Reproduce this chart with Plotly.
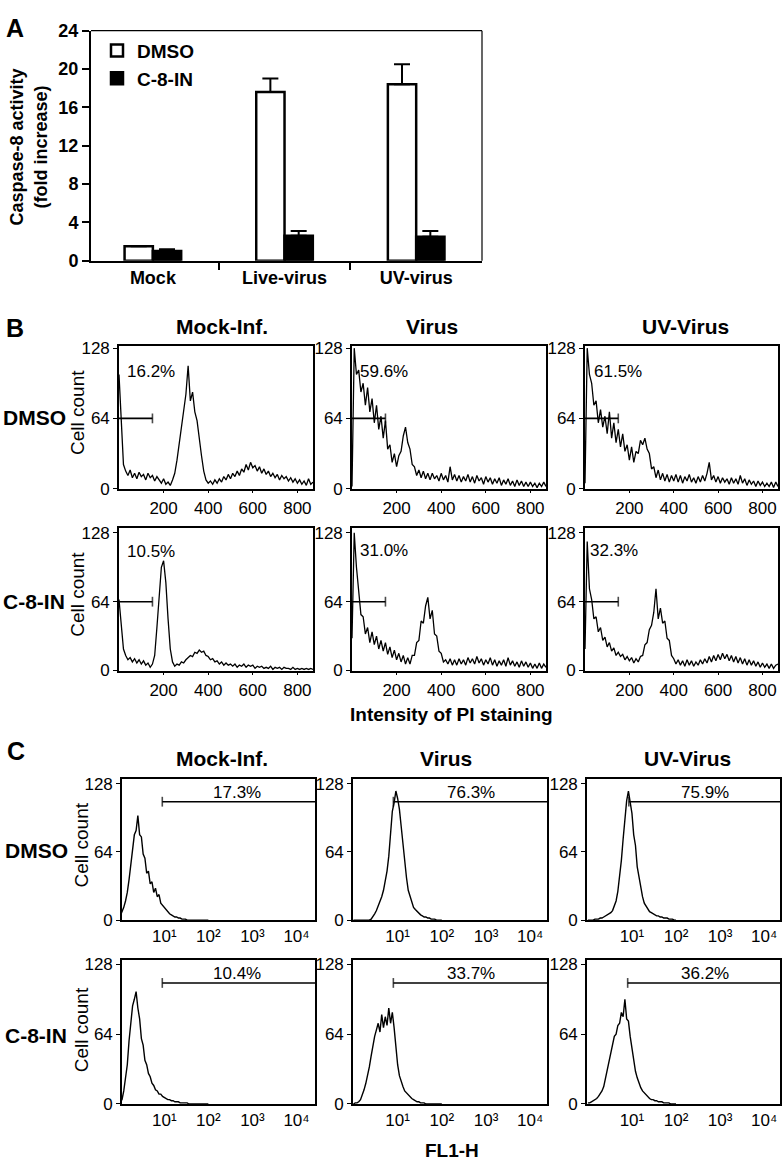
import plotly.graph_objects as go

W, H = 782, 1171
FONT = "Liberation Sans, Arial, Helvetica, sans-serif"

# ---------------- Panel A data ----------------
categories = ["Mock", "Live-virus", "UV-virus"]
dmso_mean = [1.5, 17.6, 18.4]
dmso_err = [0.0, 1.4, 2.1]
c8_mean = [1.0, 2.6, 2.5]
c8_err = [0.2, 0.5, 0.6]
a_yticks = [0, 4, 8, 12, 16, 20, 24]

# ---------------- Panel B data (PI staining histograms) ----------------
pi_channels = list(range(0, 880, 10))
pi_ticks = [200, 400, 600, 800]
B_mock_dmso = [104, 60, 22, 16, 12, 17, 10, 14, 9, 15, 11, 13, 8, 14, 10, 12, 7, 11, 8, 5,
               9, 4, 6, 3, 8, 14, 26, 42, 58, 74, 86, 112, 80, 88, 70, 62, 44, 30, 16, 8,
               5, 7, 4, 8, 5, 9, 6, 11, 8, 13, 9, 14, 11, 16, 12, 18, 15, 22, 17, 24,
               19, 21, 16, 20, 14, 18, 13, 16, 11, 14, 10, 13, 8, 12, 9, 11, 7, 10, 6, 9,
               5, 8, 4, 7, 3, 9, 4, 6]
B_virus_dmso = [2, 128, 104, 108, 88, 96, 76, 92, 70, 82, 60, 76, 54, 66, 46, 62, 36, 40, 24, 32,
                20, 30, 34, 48, 56, 42, 36, 22, 20, 12, 17, 10, 16, 9, 14, 8, 14, 9, 12, 7,
                14, 8, 12, 6, 20, 8, 13, 7, 12, 6, 11, 7, 13, 6, 11, 5, 12, 7, 10, 4,
                11, 6, 10, 4, 9, 5, 10, 3, 8, 4, 9, 3, 7, 2, 8, 3, 7, 2, 6, 2,
                6, 2, 5, 1, 5, 2, 6, 2]
B_uv_dmso = [5, 128, 104, 96, 76, 80, 60, 72, 56, 66, 50, 70, 46, 60, 42, 54, 38, 50, 34, 40,
             26, 38, 24, 34, 32, 44, 40, 46, 36, 32, 18, 20, 10, 17, 8, 14, 7, 13, 6, 12,
             7, 13, 6, 12, 5, 11, 7, 13, 6, 10, 5, 11, 6, 12, 7, 14, 24, 8, 12, 6,
             11, 5, 10, 6, 9, 4, 10, 5, 9, 4, 12, 5, 9, 3, 8, 4, 7, 2, 7, 3,
             6, 2, 5, 2, 6, 1, 6, 2]
B_mock_c8 = [66, 40, 20, 14, 10, 12, 8, 11, 7, 10, 6, 9, 5, 7, 3, 6, 14, 40, 72, 96,
             102, 82, 48, 20, 8, 4, 6, 5, 8, 7, 10, 12, 14, 13, 17, 16, 19, 17, 18, 14,
             13, 10, 11, 8, 9, 6, 8, 5, 7, 5, 6, 4, 6, 3, 5, 4, 6, 3, 5, 4,
             5, 2, 4, 3, 4, 2, 3, 2, 4, 1, 3, 2, 3, 1, 3, 2, 2, 1, 3, 1,
             2, 1, 2, 1, 2, 1, 2, 1]
B_virus_c8 = [30, 128, 96, 74, 52, 50, 34, 40, 26, 36, 24, 32, 20, 28, 18, 26, 15, 22, 12, 19,
              10, 16, 8, 14, 6, 12, 6, 14, 14, 26, 28, 46, 44, 60, 68, 48, 56, 34, 32, 18,
              16, 8, 10, 6, 11, 5, 10, 5, 11, 6, 10, 5, 12, 7, 11, 6, 13, 7, 11, 5,
              10, 6, 12, 5, 10, 4, 9, 5, 10, 4, 12, 5, 9, 4, 8, 3, 9, 4, 8, 3,
              7, 2, 6, 2, 7, 2, 6, 3]
B_uv_c8 = [20, 120, 76, 66, 48, 50, 36, 40, 28, 31, 22, 26, 18, 21, 14, 17, 13, 15, 10, 13,
           9, 12, 7, 11, 8, 13, 14, 24, 26, 38, 42, 54, 76, 48, 58, 44, 46, 30, 28, 14,
           11, 6, 10, 5, 9, 4, 10, 5, 9, 4, 8, 5, 10, 6, 11, 7, 13, 8, 14, 9,
           15, 10, 16, 11, 15, 9, 14, 8, 13, 7, 12, 6, 11, 5, 10, 5, 9, 4, 8, 3,
           7, 3, 6, 2, 6, 2, 5, 6]
B_pct = ["16.2%", "59.6%", "61.5%", "10.5%", "31.0%", "32.3%"]
B_gate = [0, 150]
B_gate_level = 64

# ---------------- Panel C data (FL1-H histograms, log10 channels) ----------------
fl1_log_channels = [0.00, 0.04, 0.08, 0.12, 0.16, 0.20, 0.24, 0.28, 0.32, 0.36, 0.40, 0.44, 0.48,
                    0.52, 0.56, 0.60, 0.64, 0.68, 0.72, 0.76, 0.80, 0.84, 0.88, 0.92, 0.96, 1.00,
                    1.04, 1.08, 1.12, 1.16, 1.20, 1.24, 1.28, 1.32, 1.36, 1.40, 1.44, 1.48, 1.52,
                    1.56, 1.60, 1.64, 1.68, 1.72, 1.76, 1.80, 1.84, 1.88, 1.92, 1.96, 2.00]
C_mock_dmso = [4, 8, 12, 18, 26, 38, 52, 66, 80, 84, 98, 80, 78, 62, 58, 44, 46, 34, 36, 26,
               30, 22, 24, 16, 14, 11, 9, 7, 6, 5, 4, 3, 3, 2, 2, 1, 1, 1, 0, 0,
               0, 0, 0, 0, 0, 0, 0, 0, 0, 0, 0]
C_virus_dmso = [0, 0, 0, 0, 0, 0, 0, 0, 0, 0, 1, 3, 6, 9, 13, 17, 22, 28, 36, 46,
                60, 80, 102, 110, 121, 114, 104, 88, 72, 52, 40, 28, 22, 16, 12, 10, 8, 6, 5, 4,
                3, 3, 2, 2, 1, 1, 1, 0, 0, 0, 0]
C_uv_dmso = [0, 0, 0, 0, 1, 1, 1, 2, 2, 3, 4, 5, 6, 7, 9, 13, 18, 27, 40, 56,
             76, 98, 112, 121, 108, 100, 80, 70, 50, 40, 28, 22, 16, 13, 10, 8, 7, 6, 5, 4,
             4, 3, 3, 2, 2, 2, 1, 1, 1, 0, 0]
C_mock_c8 = [2, 4, 12, 26, 36, 58, 72, 90, 96, 103, 88, 78, 60, 54, 40, 36, 28, 25, 19, 17,
             13, 12, 9, 9, 7, 6, 5, 4, 4, 3, 3, 2, 2, 2, 1, 1, 1, 1, 1, 0,
             0, 0, 0, 0, 0, 0, 0, 0, 0, 0, 0]
C_virus_c8 = [0, 1, 1, 2, 4, 8, 13, 19, 26, 34, 44, 54, 62, 68, 74, 66, 82, 70, 80, 72,
              88, 74, 84, 70, 52, 36, 26, 20, 16, 12, 10, 8, 6, 5, 4, 3, 2, 2, 1, 1,
              1, 0, 0, 0, 0, 0, 0, 0, 0, 0, 0]
C_uv_c8 = [1, 1, 2, 3, 4, 5, 7, 9, 12, 16, 24, 32, 40, 48, 54, 62, 64, 72, 74, 84,
           80, 96, 78, 76, 62, 50, 40, 30, 24, 19, 15, 12, 10, 8, 7, 5, 4, 4, 3, 3,
           2, 2, 2, 1, 1, 1, 1, 0, 0, 0, 0]
C_pct = ["17.3%", "76.3%", "75.9%", "10.4%", "33.7%", "36.2%"]
C_gate_start = [9, 8, 8.5, 9, 8, 8]
C_gate_end = 30000
C_gate_level = 111
fl1_tickvals = [10, 100, 1000, 10000]
fl1_ticktext = ["10¹", "10²", "10³", "10⁴"]
count_ticks = [0, 64, 128]

col_titles = ["Mock-Inf.", "Virus", "UV-Virus"]
row_titles = ["DMSO", "C-8-IN"]


def xdom(l, r):
    return [l / W, r / W]


def ydom(t, b):
    return [1 - b / H, 1 - t / H]


def px(x):
    return x / W


def py(y):
    return 1 - y / H


fig = go.Figure()

# ---------- Panel A ----------
fig.add_trace(go.Bar(
    x=categories, y=dmso_mean, name="DMSO", xaxis="x", yaxis="y",
    marker=dict(color="white", line=dict(color="black", width=2.5)),
    error_y=dict(type="data", array=dmso_err, arrayminus=[0, 0, 0], symmetric=False,
                 color="black", thickness=2, width=8)))
fig.add_trace(go.Bar(
    x=categories, y=c8_mean, name="C-8-IN", xaxis="x", yaxis="y",
    marker=dict(color="black", line=dict(color="black", width=2.5)),
    error_y=dict(type="data", array=c8_err, arrayminus=[0, 0, 0], symmetric=False,
                 color="black", thickness=2, width=8)))

# ---------- Panel B / C geometry ----------
B_cols = [(119, 313), (352, 546), (585, 778)]
B_rows = [(342, 487), (527, 672)]
C_cols = [(122, 315), (353, 547), (587, 780)]
C_rows = [(782, 926), (967, 1113)]
C_xrange = [[0.04, 4.42], [-0.01, 4.38], [-0.02, 4.36]]

B_data = [B_mock_dmso, B_virus_dmso, B_uv_dmso, B_mock_c8, B_virus_c8, B_uv_c8]
C_data = [C_mock_dmso, C_virus_dmso, C_uv_dmso, C_mock_c8, C_virus_c8, C_uv_c8]
B_pct_xy = [(27, 107), (27, 107), (31, 107), (27, 111), (27, 112), (13, 112)]

layout = dict(
    width=W, height=H, autosize=False,
    margin=dict(l=0, r=0, t=0, b=0, pad=0),
    paper_bgcolor="white", plot_bgcolor="white",
    font=dict(family=FONT, color="black", size=17),
    barmode="group", bargap=0.57, bargroupgap=0.0,
    showlegend=True,
    legend=dict(x=px(97), y=py(22), xanchor="left", yanchor="top",
                font=dict(size=19, weight="bold", family=FONT),
                bgcolor="rgba(0,0,0,0)", tracegroupgap=0, itemwidth=30),
    xaxis=dict(domain=xdom(91, 482), anchor="y", type="category", range=[-0.47, 2.5],
               showline=True, linewidth=2, linecolor="black", ticks="outside", ticklen=7,
               tickwidth=2, tickson="boundaries", tickcolor="black", showgrid=False,
               tickfont=dict(size=18, weight="bold")),
    yaxis=dict(domain=ydom(21, 255), anchor="x", range=[0, 24], tickvals=a_yticks,
               showline=True, linewidth=2, linecolor="black", ticks="outside", ticklen=7,
               tickwidth=2, tickcolor="black", showgrid=False, zeroline=False,
               tickfont=dict(size=18, weight="bold")),
)

shapes = [
    dict(type="line", xref="x domain", yref="y domain", x0=0, x1=1, y0=1, y1=1,
         line=dict(color="black", width=1.2)),
    dict(type="line", xref="x domain", yref="y domain", x0=1, x1=1, y0=0, y1=1,
         line=dict(color="black", width=1.2)),
]
annotations = []

idx = 2
for r in range(2):
    for c in range(3):
        k = r * 3 + c
        xa, ya = f"xaxis{idx}", f"yaxis{idx}"
        xr, yr = f"x{idx}", f"y{idx}"
        top = 129.8 if r == 0 else 132.5
        layout[xa] = dict(domain=xdom(*B_cols[c]), anchor=yr, range=[0, 870], tickvals=pi_ticks,
                          showline=True, mirror=True, linewidth=1.6, linecolor="black",
                          ticks="outside", ticklen=3, tickcolor="black", showgrid=False,
                          zeroline=False, tickfont=dict(size=17))
        layout[ya] = dict(domain=ydom(*B_rows[r]), anchor=xr, range=[0, top], tickvals=count_ticks,
                          showline=True, mirror=True, linewidth=1.6, linecolor="black",
                          ticks="outside", ticklen=4, tickcolor="black", showgrid=False,
                          zeroline=False, tickfont=dict(size=17))
        ys = B_data[k]
        fig.add_trace(go.Scatter(x=pi_channels[:len(ys)], y=ys, mode="lines", xaxis=xr, yaxis=yr,
                                 line=dict(color="black", width=1.3), showlegend=False,
                                 hoverinfo="skip"))
        fig.add_trace(go.Scatter(x=B_gate, y=[B_gate_level, B_gate_level], mode="lines+markers",
                                 xaxis=xr, yaxis=yr, showlegend=False, hoverinfo="skip",
                                 line=dict(color="black", width=1.6),
                                 marker=dict(symbol="line-ns", size=[0, 7],
                                             line=dict(color="black", width=1.6))))
        annotations.append(dict(x=B_pct_xy[k][0], y=B_pct_xy[k][1], xref=xr, yref=yr,
                                text=B_pct[k], showarrow=False, xanchor="left", yanchor="middle",
                                font=dict(size=17)))
        idx += 1

for r in range(2):
    for c in range(3):
        k = r * 3 + c
        xa, ya = f"xaxis{idx}", f"yaxis{idx}"
        xr, yr = f"x{idx}", f"y{idx}"
        top = 132.6 if r == 0 else 131.6
        layout[xa] = dict(domain=xdom(*C_cols[c]), anchor=yr, type="log", range=C_xrange[c],
                          tickvals=fl1_tickvals, ticktext=fl1_ticktext,
                          showline=True, mirror=True, linewidth=1.6, linecolor="black",
                          ticks="", showgrid=False, zeroline=False, tickfont=dict(size=17))
        layout[ya] = dict(domain=ydom(*C_rows[r]), anchor=xr, range=[0, top], tickvals=count_ticks,
                          showline=True, mirror=True, linewidth=1.6, linecolor="black",
                          ticks="outside", ticklen=4, tickcolor="black", showgrid=False,
                          zeroline=False, tickfont=dict(size=17))
        ys = C_data[k]
        xs = [10 ** v for v in fl1_log_channels[:len(ys)]]
        fig.add_trace(go.Scatter(x=xs, y=ys, mode="lines", xaxis=xr, yaxis=yr,
                                 line=dict(color="black", width=1.4), showlegend=False,
                                 hoverinfo="skip"))
        fig.add_trace(go.Scatter(x=[C_gate_start[k], C_gate_end], y=[C_gate_level, C_gate_level],
                                 mode="lines+markers", xaxis=xr, yaxis=yr, showlegend=False,
                                 hoverinfo="skip", line=dict(color="black", width=1.6),
                                 marker=dict(symbol="line-ns", size=[7, 0],
                                             line=dict(color="black", width=1.6))))
        annotations.append(dict(x=2.65, y=C_gate_level, xref=xr, yref=yr, text=C_pct[k],
                                showarrow=False, xanchor="center", yanchor="bottom",
                                yshift=-2, font=dict(size=17)))
        idx += 1

# ---------- Text labels ----------
def label(text, x, y, size, bold=True, angle=0, xanchor="center"):
    annotations.append(dict(x=px(x), y=py(y), xref="paper", yref="paper", text=text,
                            showarrow=False, xanchor=xanchor, yanchor="middle",
                            textangle=angle,
                            font=dict(size=size, weight="bold" if bold else "normal")))

label("A", 15, 18, 25)
label("B", 15, 324, 25)
label("C", 16, 754, 25)
label("Caspase-8 activity<br>(fold increase)", 29, 140, 18, angle=-90)

for tx, (x, y) in zip(col_titles, [(222, 322), (432, 322), (685, 322)]):
    label(tx, x, y, 21)
for tx, (x, y) in zip(col_titles, [(222, 762), (446, 762), (687, 762)]):
    label(tx, x, y, 21)
for tx, y in zip(row_titles, [415, 602]):
    label(tx, 1, y, 21, xanchor="left")
for tx, y in zip(row_titles, [855, 1043]):
    label(tx, 3, y, 21, xanchor="left")
for (x, y) in [(78, 410), (78, 595), (81, 850), (81, 1038)]:
    label("Cell count", x, y, 19, bold=False, angle=-90)
label("Intensity of PI staining", 451, 717, 19)
label("FL1-H", 452, 1160, 19)

layout["shapes"] = shapes
layout["annotations"] = annotations
fig.update_layout(**layout)
fig.write_html("out.html", config={"displayModeBar": False},
               post_script="document.body.style.margin='0';document.body.style.padding='0';"
                           "document.body.style.overflow='hidden';"
                           "document.documentElement.style.overflow='hidden';")
